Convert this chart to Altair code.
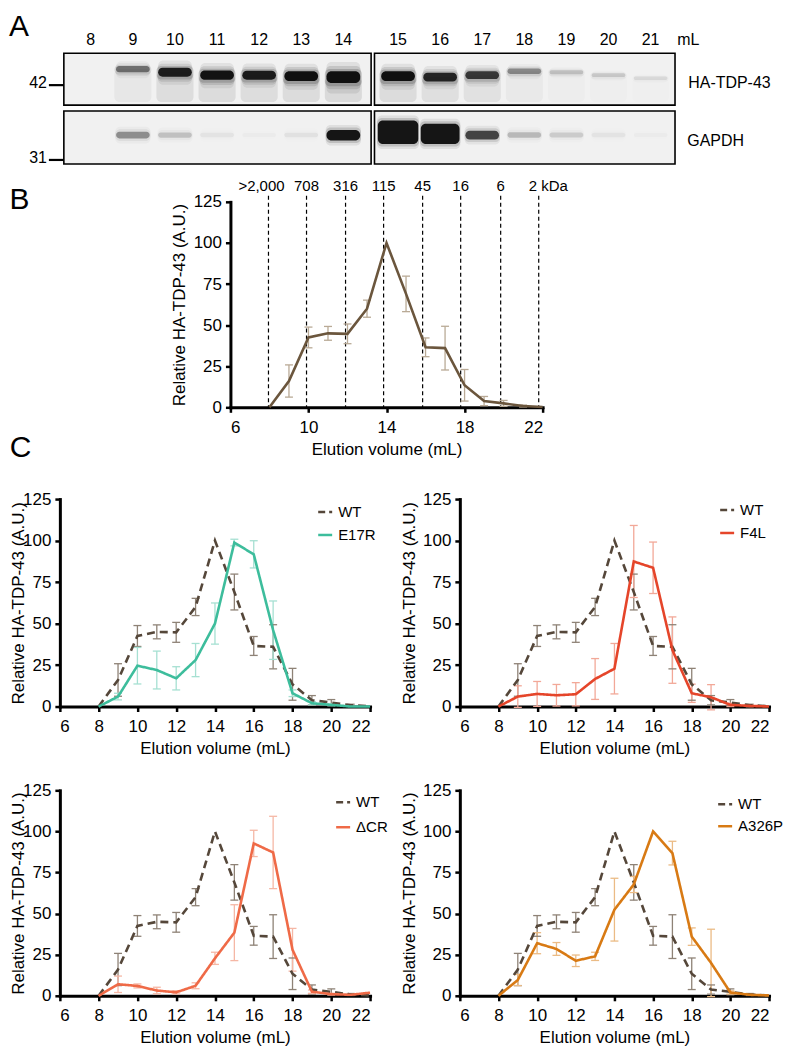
import altair as alt
import pandas as pd

FONT = "Liberation Sans"

# ---------------- data ----------------
# Panel A: relative band signal per lane
lanes = [8, 9, 10, 11, 12, 13, 14, 15, 16, 17, 18, 19, 20, 21]
ha_signal = [0.0, 0.45, 0.85, 0.9, 0.85, 0.95, 1.25, 0.95, 0.8, 0.7, 0.35, 0.15, 0.12, 0.07]
ha_shift = [0, -6, -3, 0, 0, 1, 2, 1, 2, 0, -4, -3, 0, 3]
gapdh_signal = [0.0, 0.4, 0.18, 0.05, 0.02, 0.06, 1.0, 3.0, 2.5, 0.75, 0.22, 0.14, 0.05, 0.02]

# Panels B / C: elution profiles (mean and error)
volumes = [8, 9, 10, 11, 12, 13, 14, 15, 16, 17, 18, 19, 20, 21, 22]
wt_mean = [0, 16, 42.5, 45, 44.7, 60, 100, 69, 36.5, 36, 13.4, 3.8, 2.4, 0.8, 0.2]
wt_err = [0, 9.8, 6.3, 4.2, 6, 5.2, 0, 10.8, 5.7, 13.3, 9.6, 2.8, 1.8, 0.6, 0]
e17r_mean = [0, 6, 24.6, 22, 17, 28, 50, 98.8, 91.7, 46, 8, 2, 1, 0, 0]
e17r_err = [0, 2, 11, 11.4, 7, 10, 12.4, 2, 8.2, 17.6, 2, 1, 0.5, 0, 0]
f4l_mean = [0, 6, 7.6, 6.8, 7.4, 16.6, 22.8, 87.4, 83.6, 34, 8, 5.6, 1, 0.4, 0]
f4l_err = [0, 6.5, 7.5, 6.5, 7, 12.3, 15.2, 21.7, 15.5, 20, 5.5, 7.6, 1, 0.5, 0]
dcr_mean = [0, 7, 6, 3.2, 2.1, 6.1, 22.8, 38.4, 92.7, 87.2, 28, 2.5, 1, 0.6, 1.9]
dcr_err = [0, 5, 1.2, 2, 1, 1.8, 3.7, 17, 8, 22, 13, 1, 0.5, 0, 0]
a326p_mean = [0, 9.6, 32, 28.5, 21.3, 24, 52.4, 67.7, 100, 86.8, 36, 20, 2, 0.6, 0.2]
a326p_err = [0, 3.4, 6.4, 3.9, 3.5, 2.5, 19.1, 4.9, 0, 7.2, 5.3, 20.5, 1, 0, 0]

kda_pos = [7.95, 9.9, 11.9, 13.85, 15.85, 17.8, 19.85, 21.8]
kda_labels = [">2,000", "708", "316", "115", "45", "16", "6", "2 kDa"]

# ---------------- colours ----------------
B_LINE = "#6b563d"
B_ERR = "#b9aa96"
WT_C = "#55473a"
WT_ERR = "#8e8276"
WT_DASH = [8, 5]

# ---------------- helpers ----------------
ONE = pd.DataFrame({"a": [0]})
ORIGIN_X = 58   # page x shared by the left plot edges of every row


def anchors(x0, x1, y0, y1):
    base = alt.Chart(ONE)
    top = base.mark_rule(opacity=0).encode(x=alt.value(x0), x2=alt.value(x1), y=alt.value(y0))
    bot = base.mark_rule(opacity=0).encode(x=alt.value(x0), x2=alt.value(x1), y=alt.value(y1))
    return [top, bot]


def x_axis(title_y):
    return alt.Axis(values=list(range(6, 23, 2)), title="Elution volume (mL)", titleY=title_y,
                    titleBaseline="middle", labelPadding=7, labelOverlap=False)


def y_axis(title_x, h):
    return alt.Axis(values=[0, 25, 50, 75, 100, 125], title="Relative HA-TDP-43 (A.U.)",
                    titleX=title_x, titleY=h / 2, titleBaseline="middle", labelPadding=4,
                    labelOverlap=False)


def long_df(name, mean, err):
    return pd.DataFrame({
        "series": name, "eseries": name, "volume": volumes, "mean": mean, "err": err,
        "lo": [m - e for m, e in zip(mean, err)], "hi": [m + e for m, e in zip(mean, err)],
    })


def px(page_x):
    return page_x - ORIGIN_X


# ---------------- Panel A (blot) ----------------
TOP = 8
A_W, A_H = 720, 162
UNIT = 42.2            # px per lane
LANE8_PX = 89          # page x of lane 8
SPLIT = 0.3            # extra gap between the two membranes (lanes)
x_lo = 8 - (LANE8_PX - ORIGIN_X) / UNIT
xA = alt.Scale(domain=[x_lo, x_lo + A_W / UNIT], nice=False, zero=False)
yA = alt.Scale(domain=[TOP, TOP + A_H], reverse=True, nice=False, zero=False)

pos = [l + (SPLIT if l >= 15 else 0) for l in lanes]
boxes = pd.DataFrame({
    "x0": [pos[0] - 0.64, pos[7] - 0.56, pos[0] - 0.64, pos[7] - 0.56],
    "x1": [pos[6] + 0.66, pos[13] + 0.58, pos[6] + 0.66, pos[13] + 0.58],
    "y0": [52, 52, 110, 110],
    "y1": [104, 104, 163, 163],
})

rows = []
for p, s, sh in zip(pos, ha_signal, ha_shift):
    c = 74 + sh
    h = 3 + 7 * s
    o = min(1.0, s)
    rows.append(dict(x0=p - 0.44, x1=p + 0.44, y0=c, y1=101, op=0.10 * o))
    for k, (grow, a) in enumerate([(2.6, 0.08), (1.9, 0.12), (1.4, 0.18)]):
        rows.append(dict(x0=p - 0.40 - 0.02 * k, x1=p + 0.40 + 0.02 * k,
                         y0=c - h * grow / 2, y1=c + h * grow / 2 + 1, op=a * o))
    rows.append(dict(x0=p - 0.40, x1=p + 0.40, y0=c - h / 2, y1=c + h / 2, op=min(1.0, 1.1 * s)))
for p, s in zip(pos, gapdh_signal):
    bottom = 136 + 3.5 * min(s, 2)
    h = 4 + 6.5 * s
    hw = 0.4 + 0.04 * max(0.0, s - 1)
    o = min(1.0, s)
    for grow, a in [(5, 0.08), (2.5, 0.15)]:
        rows.append(dict(x0=p - hw - 0.02, x1=p + hw + 0.02, y0=bottom - h - grow, y1=bottom + grow, op=a * o))
    rows.append(dict(x0=p - hw, x1=p + hw, y0=bottom - h, y1=bottom, op=0.97 * o))
bands = pd.DataFrame(rows)

box_bg = alt.Chart(boxes).mark_rect(fill="#f1f1f1").encode(
    x=alt.X("x0:Q", scale=xA, axis=None), x2="x1:Q",
    y=alt.Y("y0:Q", scale=yA, axis=None), y2="y1:Q")
band_layer = alt.Chart(bands).mark_rect(color="#101010", cornerRadius=5).encode(
    x=alt.X("x0:Q", scale=xA, axis=None), x2="x1:Q",
    y=alt.Y("y0:Q", scale=yA, axis=None), y2="y1:Q",
    opacity=alt.Opacity("op:Q", scale=None))
box_frame = alt.Chart(boxes).mark_rect(fill=None, stroke="black", strokeWidth=1.6).encode(
    x=alt.X("x0:Q", scale=xA, axis=None), x2="x1:Q",
    y=alt.Y("y0:Q", scale=yA, axis=None), y2="y1:Q")
lane_text = alt.Chart(pd.DataFrame({"pos": pos, "lab": [str(l) for l in lanes]})).mark_text(
    fontSize=16, color="black").encode(
    x=alt.X("pos:Q", scale=xA, axis=None), y=alt.value(31), text="lab:N")

ann = alt.Chart(ONE)
a_texts = [
    ann.mark_text(text="A", fontSize=30, align="center", baseline="middle").encode(x=alt.value(px(17)), y=alt.value(18)),
    ann.mark_text(text="mL", fontSize=16, align="left", baseline="middle").encode(x=alt.value(px(677)), y=alt.value(31)),
    ann.mark_text(text="42", fontSize=16, align="right", baseline="middle").encode(x=alt.value(px(45)), y=alt.value(74)),
    ann.mark_text(text="31", fontSize=16, align="right", baseline="middle").encode(x=alt.value(px(45)), y=alt.value(149)),
    ann.mark_rule(strokeWidth=2.2, color="black").encode(x=alt.value(px(47)), x2=alt.value(px(62)), y=alt.value(76)),
    ann.mark_rule(strokeWidth=2.2, color="black").encode(x=alt.value(px(47)), x2=alt.value(px(62)), y=alt.value(151)),
    ann.mark_text(text="HA-TDP-43", fontSize=16, align="left", baseline="middle").encode(x=alt.value(px(688)), y=alt.value(74)),
    ann.mark_text(text="GAPDH", fontSize=16, align="left", baseline="middle").encode(x=alt.value(px(687)), y=alt.value(132)),
]
panelA = alt.layer(box_bg, band_layer, box_frame, lane_text, *a_texts,
                   *anchors(px(8), A_W, 0, A_H)).properties(width=A_W, height=A_H)

# ---------------- Panel B ----------------
B_W, B_H = 313, 206
xs = alt.Scale(domain=[6, 22], nice=False, zero=False)
ys = alt.Scale(domain=[0, 125], nice=False)

kdf = pd.DataFrame({"pos": kda_pos, "lab": kda_labels})
b_df = long_df("WT", wt_mean, wt_err)
b_err = b_df[b_df.err > 0]
xB = alt.X("volume:Q", scale=xs, axis=x_axis(42))
yB = alt.Y("mean:Q", scale=ys, axis=y_axis(-51, B_H))

dashes = alt.Chart(kdf).mark_rule(strokeDash=[4, 3], strokeWidth=1.2, color="black").encode(
    x=alt.X("pos:Q", scale=xs, axis=x_axis(42)), y=alt.value(-6), y2=alt.value(B_H))
kd_mid = alt.Chart(kdf.iloc[1:7]).mark_text(fontSize=15, baseline="middle").encode(
    x=alt.X("pos:Q", scale=xs), y=alt.value(-16), text="lab:N")
kd_first = alt.Chart(kdf.iloc[[0]]).mark_text(fontSize=15, baseline="middle", dx=-7).encode(
    x=alt.X("pos:Q", scale=xs), y=alt.value(-16), text="lab:N")
kd_last = alt.Chart(kdf.iloc[[7]]).mark_text(fontSize=15, baseline="middle", align="left", dx=-10).encode(
    x=alt.X("pos:Q", scale=xs), y=alt.value(-16), text="lab:N")
b_rule = alt.Chart(b_err).mark_rule(strokeWidth=1.3, color=B_ERR).encode(
    x=xB, y=alt.Y("lo:Q", scale=ys), y2="hi:Q")
b_cap1 = alt.Chart(b_err).mark_tick(orient="horizontal", size=8, thickness=1.3, color=B_ERR, opacity=1).encode(
    x=xB, y=alt.Y("lo:Q", scale=ys))
b_cap2 = alt.Chart(b_err).mark_tick(orient="horizontal", size=8, thickness=1.3, color=B_ERR, opacity=1).encode(
    x=xB, y=alt.Y("hi:Q", scale=ys))
b_line = alt.Chart(b_df).mark_line(strokeWidth=2.6, color=B_LINE).encode(x=xB, y=yB)

panelB = alt.layer(dashes, kd_mid, kd_first, kd_last, b_rule, b_cap1, b_cap2, b_line,
                   *anchors(160 - 229, 600 - 229, 170 - 201, 464 - 201)).properties(width=B_W, height=B_H)

SP_W = 160 - ORIGIN_X
spB = alt.layer(
    ann.mark_text(text="B", fontSize=30, align="center", baseline="middle").encode(x=alt.value(px(17.5)), y=alt.value(-2)),
    ann.mark_text(text="C", fontSize=30, align="center", baseline="middle").encode(x=alt.value(px(18.5)), y=alt.value(247)),
    *anchors(px(8), SP_W, 170 - 201, 464 - 201),
).properties(width=SP_W, height=B_H)


# ---------------- Panel C ----------------
def legend_keys(name, color, lx, ly, step):
    """Key of the two series (symbol + label), placed at the top right of a panel."""
    return [
        ann.mark_rule(strokeWidth=2.5, color=WT_C, strokeDash=[7, 4]).encode(
            x=alt.value(lx), x2=alt.value(lx + 14), y=alt.value(ly)),
        ann.mark_text(text="WT", fontSize=15, align="left", baseline="middle").encode(
            x=alt.value(lx + 20), y=alt.value(ly)),
        ann.mark_rule(strokeWidth=2.5, color=color).encode(
            x=alt.value(lx), x2=alt.value(lx + 14), y=alt.value(ly + step)),
        ann.mark_text(text=name, fontSize=15, align="left", baseline="middle").encode(
            x=alt.value(lx + 20), y=alt.value(ly + step)),
    ]


def c_panel(name, mean, err, color, err_color, W, H, title_x, key, box):
    dom = ["WT", name]
    df = pd.concat([long_df("WT", wt_mean, wt_err), long_df(name, mean, err)], ignore_index=True)
    edf = df[df.err > 0]
    xe = alt.X("volume:Q", scale=xs, axis=x_axis(42))
    ye = alt.Y("mean:Q", scale=ys, axis=y_axis(title_x, H))
    err_scale = alt.Scale(domain=dom, range=[WT_ERR, err_color])
    r = alt.Chart(edf).mark_rule(strokeWidth=1.3).encode(
        x=xe, y=alt.Y("lo:Q", scale=ys), y2="hi:Q",
        stroke=alt.Stroke("eseries:N", scale=err_scale, legend=None))
    c1 = alt.Chart(edf).mark_tick(orient="horizontal", size=8, thickness=1.3, opacity=1).encode(
        x=xe, y=alt.Y("lo:Q", scale=ys), fill=alt.Fill("eseries:N", scale=err_scale, legend=None))
    c2 = alt.Chart(edf).mark_tick(orient="horizontal", size=8, thickness=1.3, opacity=1).encode(
        x=xe, y=alt.Y("hi:Q", scale=ys), fill=alt.Fill("eseries:N", scale=err_scale, legend=None))
    ln = alt.Chart(df).mark_line(strokeWidth=2.6).encode(
        x=xe, y=ye,
        color=alt.Color("series:N", scale=alt.Scale(domain=dom, range=[WT_C, color]), legend=None),
        strokeDash=alt.StrokeDash("series:N", scale=alt.Scale(domain=dom, range=[WT_DASH, [1, 0]]), legend=None),
    )
    return alt.layer(r, c1, c2, ln, *legend_keys(name, color, *key),
                     *anchors(*box)).properties(width=W, height=H)


C_H = 208
C2_H = 206
c1 = c_panel("E17R", e17r_mean, e17r_err, "#3dbd9c", "#a6e0d2", 311, C_H, -41, (259, 13, 23),
             (8 - 58, 390 - 58, 464 - 499, 772 - 499))
c2 = c_panel("F4L", f4l_mean, f4l_err, "#e5452a", "#f2a898", 310, C_H, -50, (261, 11, 23),
             (390 - 459, 784 - 459, 464 - 499, 772 - 499))
c3 = c_panel("\u0394CR", dcr_mean, dcr_err, "#ef6a47", "#f5b7a5", 311, C2_H, -41, (277, 12, 25),
             (8 - 58, 390 - 58, 772 - 791, 1047 - 791))
c4 = c_panel("A326P", a326p_mean, a326p_err, "#d87a14", "#ebbb85", 310, C2_H, -50, (259, 14, 22),
             (390 - 459, 784 - 459, 772 - 791, 1047 - 791))

IND = dict(color="independent", strokeDash="independent", stroke="independent", fill="independent")


def hrow(a, b):
    return alt.hconcat(a, b, spacing=0).resolve_scale(**IND)


chart = alt.vconcat(
    panelA,
    hrow(spB, panelB),
    hrow(c1, c2),
    hrow(c3, c4),
    spacing=0,
).resolve_scale(**IND).properties(
    padding=0).configure(font=FONT).configure_view(stroke=None).configure_axis(
    domainColor="black", tickColor="black", labelColor="black", titleColor="black", grid=False,
    labelFontSize=17, titleFontSize=17, titleFontWeight="normal", tickSize=5, tickWidth=2.5,
    domainWidth=3, domainCap="square", labelFont=FONT, titleFont=FONT,
).configure_text(color="black")

chart.save("out.html", embed_options={"renderer": "svg", "actions": False})
